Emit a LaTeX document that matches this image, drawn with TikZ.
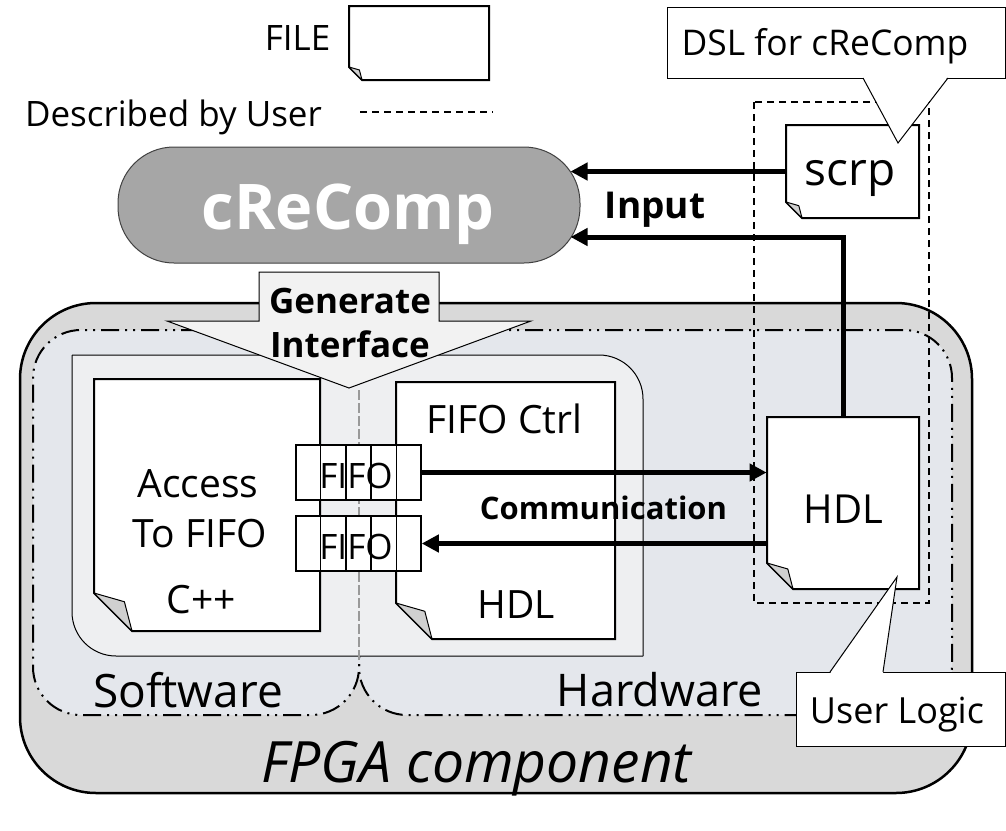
\documentclass[tikz,border=0pt]{standalone}
\usepackage{fontspec}
\setmainfont{Open Sans}
\usepackage{xcolor}
\usetikzlibrary{calc}
\usetikzlibrary{positioning}
\usetikzlibrary{arrows.meta}
\usetikzlibrary{fit}

\definecolor{fpgagray}{HTML}{D9D9D9}
\definecolor{areablue}{HTML}{E4E7EC}
\definecolor{implgray}{HTML}{EEEFF1}
\definecolor{toolgray}{HTML}{A6A6A6}
\definecolor{callgray}{HTML}{F2F2F2}
\definecolor{foldgray}{HTML}{D0D0D0}

\newcommand{\fsz}[1]{\fontsize{#1}{#1}\selectfont}
% file with folded corner: name, top left, bottom right, fold size
\newcommand{\docfile}[4]{%
  \coordinate (#1-nw) at #2;
  \coordinate (#1-se) at #3;
  \coordinate (#1-sw) at (#1-nw |- #1-se);
  \draw[file line] (#1-nw) -- (#1-nw -| #1-se) -- (#1-se)
    -- ($(#1-sw)+(#4,0)$) -- ($(#1-sw)+(0,-#4)$) -- cycle;
  \draw[fold line] ($(#1-sw)+(0,-#4)$) -- ($(#1-sw)+(0.8*#4,-0.77*#4)$)
    -- ($(#1-sw)+(#4,0)$) -- cycle;
  \node[fit=(#1-nw)(#1-se),inner sep=0pt] (#1) {};}

\begin{document}
\begin{tikzpicture}[x=0.5pt,y=-0.5pt,
    file line/.style={draw=black,line width=1pt,fill=white},
    fold line/.style={draw=black,line width=0.5pt,fill=foldgray,line join=round},
    txt/.style={anchor=base,inner sep=0pt},
    flow/.style={line width=2.5pt,-{Triangle[length=8.5pt,width=8.5pt]}},
    dash dot dot/.style={line width=1pt,dash pattern=on 9pt off 3pt on 1pt off 3pt on 1pt off 3pt},
    user line/.style={line width=0.75pt,dash pattern=on 3.5pt off 2.5pt},
    fifo style/.style={draw,line width=0.75pt,fill=white,minimum width=62.5pt,
      minimum height=27.5pt,inner sep=0pt},
    note line/.style={draw=black,line width=0.5pt,fill=white}
  ]
  \useasboundingbox (0,0) rectangle (1006,830);

  % legend
  \node[txt,font=\fsz{17.5}] (filetext) at (297.5,50) {FILE};
  \docfile{legend}{(349,6)}{(489,80)}{13}
  \node[txt,font=\fsz{17.5}] (usertext) at (173.5,126) {Described by User};
  \coordinate (userline) at (360,112);
  \draw[user line] (userline) -- ++(133,0);

  % FPGA component
  \draw[line width=1.25pt,fill=fpgagray,rounded corners=38pt] (20,303) rectangle (972,793);
  \fill[areablue,rounded corners=24pt] (33,330) rectangle (359,715);
  \fill[areablue,rounded corners=24pt] (359,330) rectangle (952,715);
  \fill[areablue] (300,330) rectangle (420,420);
  \draw[dash dot dot,rounded corners=24pt] (359,330) -- (33,330) -- (33,715) -- (359,715) -- (359,640);
  \draw[dash dot dot,rounded corners=24pt] (359,640) -- (359,715) -- (952,715) -- (952,330) -- (359,330);

  \fill[implgray,rounded corners=22pt] (72,355) rectangle (643,656);
  \fill[implgray] (72,355) rectangle (140,420) (580,600) rectangle (643,656);
  \draw[line width=0.5pt,rounded corners=22pt] (72,355) -- (643,355) -- (643,656);
  \draw[line width=0.5pt,rounded corners=22pt] (643,656) -- (72,656) -- (72,355);
  \coordinate (swhw) at (359,390);
  \draw[gray!80,line width=1pt,dash pattern=on 5pt off 1.5pt] (swhw) -- (359,662);

  \node[txt,font=\fsz{23}] (sw) at (188,707) {Software};
  \node[txt,font=\fsz{22.5}] (hw) at (660,706) {Hardware};
  \node[txt,font=\itshape\fsz{28.5}] (fpga) at (476.5,782) {FPGA component};

  % software and hardware files
  \docfile{cpp}{(94,379)}{(320,631)}{38}
  \docfile{ctrl}{(396,382)}{(615,639)}{36}
  \node[txt,font=\fsz{19.5}] (access) at (198,497) {Access};
  \node[txt,font=\fsz{19.5}] (tofifo) at (200,547) {To FIFO};
  \node[txt,font=\fsz{19.5}] (cpptext) at (201.5,613) {C++};
  \node[txt,font=\fsz{19.5}] (ctrltext) at (504.5,433) {FIFO Ctrl};
  \node[txt,font=\fsz{19.5}] (ctrlhdl) at (516.5,618) {HDL};

  \foreach \f/\y in {fifoin/472.5,fifoout/543.5}{
    \node[fifo style] (\f) at (358.5,\y) {};
    \node[txt,font=\fsz{17.5}] (\f-text) at ($(\f.south)+(-2.5,-12)$) {FIFO};
    \foreach \i in {1,...,4}
      \draw[line width=0.75pt] ($(\f.south west)!\i/5!(\f.south east)$)
        -- ($(\f.north west)!\i/5!(\f.north east)$);
  }

  % user logic
  \draw[user line] (754,102) rectangle (929,603);
  \docfile{userhdl}{(767,417)}{(919,589)}{26}
  \node[txt,font=\fsz{20}] (userhdltext) at (843.5,523) {HDL};

  \draw[flow] (fifoin.east) -- (fifoin.east -| userhdl.west);
  \draw[flow] (fifoout.east -| userhdl.west) -- (fifoout.east);
  \node[txt,font=\bfseries\fsz{15.5}] (comm) at (603.5,519) {Communication};

  % generate interface
  \draw[note line,fill=callgray] (259,272) -- (439,272) -- (439,321) -- (531,321)
    -- (349,388) -- (167,321) -- (259,321) -- cycle;
  \node[txt,font=\bfseries\fsz{17.5}] (gen) at (350,313) {Generate};
  \node[txt,font=\bfseries\fsz{17.5}] (iface) at (350,357) {Interface};

  % cReComp and its input
  \node[draw=black!75,line width=0.5pt,fill=toolgray,rounded corners=28pt,
    minimum width=231pt,minimum height=58pt] (recomp) at (349,205) {};
  \node[txt,text=white,font=\bfseries\fsz{31.5}] (recomptext) at (348,229) {cReComp};

  \docfile{scrp}{(786,125)}{(919,218)}{16}
  \node[txt,font=\fsz{23}] (scrptext) at (850,185) {scrp};

  \coordinate (in1) at ($(recomp.east)+(-10,-32)$);
  \coordinate (in2) at ($(recomp.east)+(-10,32)$);
  \draw[flow] (scrp.west) -- (scrp.west -| in1);
  \draw[flow] (userhdl.north) |- (in2);
  \node[txt,font=\bfseries\fsz{18.5}] (input) at (655,218) {Input};

  % notes
  \node[note line,minimum width=169pt,minimum height=35.5pt] (dsl) at (836,42.5) {};
  \fill[white] (863,76.5) -- (898,143) -- (948,76.5) -- cycle;
  \draw[line width=0.5pt] (863,78) -- (898,143) -- (948,78);
  \node[txt,font=\fsz{17.7}] (dsltext) at (825,55) {DSL for cReComp};

  \node[note line,minimum width=104.5pt,minimum height=37pt] (ulogic) at (900.5,709) {};
  \fill[white] (830,673.5) -- (897,577) -- (883,673.5) -- cycle;
  \draw[line width=0.5pt] (830,672) -- (897,577) -- (883,672);
  \node[txt,font=\fsz{18}] (ulogictext) at (897,723) {User Logic};
\end{tikzpicture}
\end{document}
